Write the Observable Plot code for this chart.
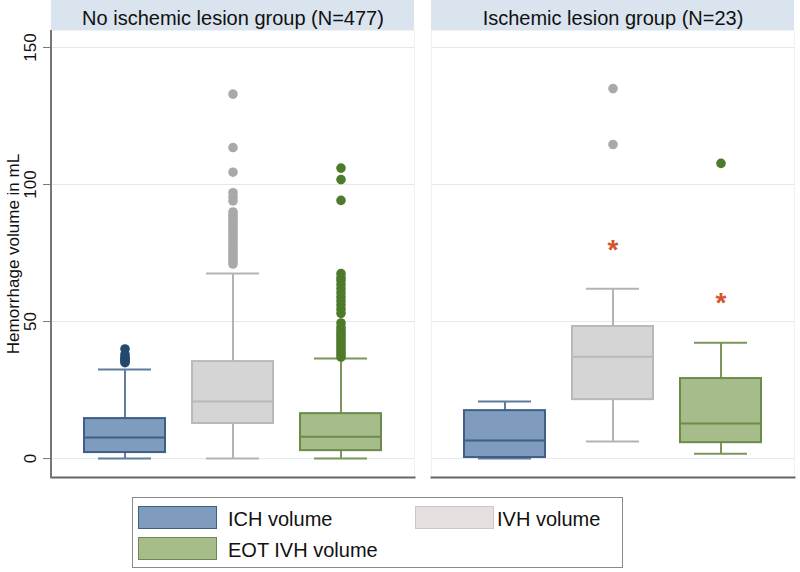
<!DOCTYPE html>
<html><head><meta charset="utf-8">
<script src="https://cdn.jsdelivr.net/npm/d3@7"></script>
<script src="https://cdn.jsdelivr.net/npm/@observablehq/plot@0.6"></script>
<style>
body{margin:0;background:#fff;font-family:"Liberation Sans",Arial,sans-serif;}
#wrap{position:relative;width:800px;height:572px;overflow:hidden;}
#legend{position:absolute;left:132px;top:497px;width:491px;height:71px;border:1px solid #8a8a8a;box-sizing:border-box;}
.sw{position:absolute;width:79px;height:23px;box-sizing:border-box;border:1.5px solid;}
.lt{position:absolute;font-size:20px;color:#111;line-height:23px;white-space:nowrap;}
</style></head><body><div id="wrap"><div id="chart"></div>
<div id="legend"></div></div>
<script>
// ---- data ----
const groups = ["No ischemic lesion group (N=477)", "Ischemic lesion group (N=23)"];
const measures = ["ICH volume", "IVH volume", "EOT IVH volume"];
const yTicks = [0, 50, 100, 150];
// box statistics per group, in order of measures
const whiskerLow = [[0, 0, 0], [0, 6.2, 1.8]];
const quartile1  = [[2.2, 12.8, 2.9], [0.4, 21.5, 5.8]];
const medians    = [[7.7, 20.8, 8.0], [6.6, 37.2, 12.8]];
const quartile3  = [[14.6, 35.4, 16.4], [17.5, 48.2, 29.2]];
const whiskerHigh= [[32.5, 67.5, 36.5], [20.8, 62.0, 42.3]];
// outliers
const ichOutliersNoLesion = [35, 35.5, 36, 36.5, 37, 38, 40];
const ivhOutliersNoLesion = [133, 113.5, 104.5, 97, 95.5, 94, 90, 89, 88, 87, 86, 85, 84, 83, 82, 81, 80, 79, 78, 77, 76, 75, 74, 73, 72, 71];
const eotOutliersNoLesion = [106, 101.8, 94.2, 67.5, 66, 65, 63.5, 62, 60.5, 59, 57.5, 56, 54.5, 53, 49.5, 48, 47, 46, 45, 44, 43, 42, 41, 40, 39, 38, 37];
const ivhOutliersLesion = [135, 114.6];
const eotOutliersLesion = [107.7];
const ivhStarsLesion = [78.8];
const eotStarsLesion = [59.2];

// ---- styles ----
const boxFill   = {"ICH volume": "#7f9bbd", "IVH volume": "#d5d5d5", "EOT IVH volume": "#a7bc8b"};
const boxStroke = {"ICH volume": "#3f5f86", "IVH volume": "#b9b9b9", "EOT IVH volume": "#6b8b49"};
const whiskerColor = {"ICH volume": "#5f7d9e", "IVH volume": "#b3b3b3", "EOT IVH volume": "#7a9658"};
const dotColor  = {"ICH volume": "#23496f", "IVH volume": "#a9a9a9", "EOT IVH volume": "#4e7a2c"};

const rows = [];
groups.forEach((g, gi) => measures.forEach((m, mi) => rows.push({
  group: g, measure: m,
  lo: whiskerLow[gi][mi], q1: quartile1[gi][mi], med: medians[gi][mi],
  q3: quartile3[gi][mi], hi: whiskerHigh[gi][mi]
})));
const outliers = [];
const addOut = (arr, g, m) => arr.forEach(v => outliers.push({group: g, measure: m, value: v}));
addOut(ichOutliersNoLesion, groups[0], measures[0]);
addOut(ivhOutliersNoLesion, groups[0], measures[1]);
addOut(eotOutliersNoLesion, groups[0], measures[2]);
addOut(ivhOutliersLesion, groups[1], measures[1]);
addOut(eotOutliersLesion, groups[1], measures[2]);
const stars = [];
ivhStarsLesion.forEach(v => stars.push({group: groups[1], measure: measures[1], value: v}));
eotStarsLesion.forEach(v => stars.push({group: groups[1], measure: measures[2], value: v}));

const yMin = -6.9, yMax = 156.2;

const chart = Plot.plot({
  width: 800, height: 480,
  marginLeft: 50, marginRight: 5, marginTop: 30, marginBottom: 3,
  style: {fontFamily: "Liberation Sans, Arial, sans-serif", color: "#111", background: "transparent"},
  fx: {domain: groups, paddingInner: 0.0446, paddingOuter: 0},
  x: {domain: measures, paddingInner: 0.253, paddingOuter: 0.304, axis: null},
  y: {domain: [yMin, yMax]},
  color: {type: "identity"},
  marks: [
    Plot.frame({stroke: "#f1f1f1"}),
    Plot.gridY(yTicks, {stroke: "#e3e8ef", strokeOpacity: 1}),
    Plot.frame({anchor: "bottom", stroke: "#666", strokeWidth: 2}),
    Plot.ruleX(rows, {fx: "group", x: "measure", y1: "lo", y2: "q1", stroke: d => whiskerColor[d.measure], strokeWidth: 2}),
    Plot.ruleX(rows, {fx: "group", x: "measure", y1: "q3", y2: "hi", stroke: d => whiskerColor[d.measure], strokeWidth: 2}),
    Plot.tickY(rows, {fx: "group", x: "measure", y: "lo", insetLeft: 14, insetRight: 14, stroke: d => whiskerColor[d.measure], strokeWidth: 2}),
    Plot.tickY(rows, {fx: "group", x: "measure", y: "hi", insetLeft: 14, insetRight: 14, stroke: d => whiskerColor[d.measure], strokeWidth: 2}),
    Plot.barY(rows, {fx: "group", x: "measure", y1: "q1", y2: "q3", fill: d => boxFill[d.measure], stroke: d => boxStroke[d.measure], strokeWidth: 2}),
    Plot.tickY(rows, {fx: "group", x: "measure", y: "med", stroke: d => boxStroke[d.measure], strokeWidth: 2}),
    Plot.dot(outliers, {fx: "group", x: "measure", y: "value", r: 4.8, fill: d => dotColor[d.measure], stroke: null}),
    Plot.text(stars, {fx: "group", x: "measure", y: "value", text: () => "*", fill: "#d4552d", fontSize: 28, fontWeight: "bold", dy: 7}),
    Plot.axisY({ticks: yTicks, tickSize: 8, tickPadding: 8, tickRotate: -90, textAnchor: "middle", lineAnchor: "bottom",
      fontSize: 17, stroke: "#777", label: "Hemorrhage volume in mL", labelAnchor: "center", labelArrow: "none", labelOffset: 45}),
    Plot.axisFx({anchor: "top", tickSize: 0, tickPadding: 6, label: null, fontSize: 20})
  ]
});
document.getElementById("chart").appendChild(chart);

// header strips and left axis line, positioned from the plot's scales
const fxs = chart.scale("fx"), ys = chart.scale("y");
const svg = d3.select(chart);
const bw = fxs.bandwidth;
const strips = svg.insert("g", ":first-child");
groups.forEach(g => {
  strips.append("rect").attr("x", fxs.apply(g)).attr("y", 0).attr("width", bw).attr("height", ys.apply(yMax))
    .attr("fill", "#d9e4ee");
});
svg.append("line").attr("x1", fxs.apply(groups[0])).attr("x2", fxs.apply(groups[0]))
  .attr("y1", ys.apply(yMax)).attr("y2", ys.apply(yMin) + 1).attr("stroke", "#777").attr("stroke-width", 2);

// legend
const legend = document.getElementById("legend");
const legendItems = [
  {label: measures[0], left: 5, top: 8, fill: "#7f9bbd", stroke: "#3f5f86", tx: 95},
  {label: measures[1], left: 282, top: 8, fill: "#e6dfdf", stroke: "#cfc6c6", tx: 364},
  {label: measures[2], left: 5, top: 39, fill: "#a7bc8b", stroke: "#6b8b49", tx: 95}
];
legendItems.forEach(it => {
  const s = document.createElement("div");
  s.className = "sw";
  s.style.left = it.left + "px"; s.style.top = it.top + "px";
  s.style.background = it.fill; s.style.borderColor = it.stroke;
  legend.appendChild(s);
  const t = document.createElement("div");
  t.className = "lt"; t.textContent = it.label;
  t.style.left = it.tx + "px"; t.style.top = (it.top + 2) + "px";
  legend.appendChild(t);
});
</script></body></html>
